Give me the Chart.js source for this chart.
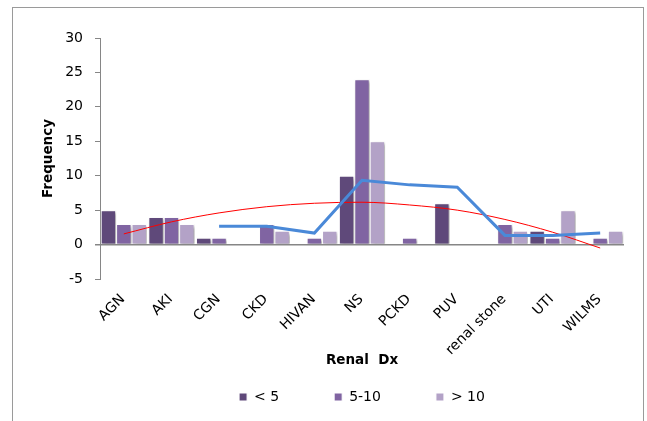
<!DOCTYPE html>
<html>
<head>
<meta charset="utf-8">
<script src="https://cdn.jsdelivr.net/npm/chart.js@4"></script>
<style>
  html, body { margin: 0; padding: 0; background: #fff; }
  .wrap { width: 647px; height: 421px; position: relative; }
</style>
</head>
<body>
<div class="wrap"><canvas class="myChart"></canvas></div>
<script>
var myChart = document.querySelector(".myChart");

// categories and counts per age group
let labels = ['AGN','AKI','CGN','CKD','HIVAN','NS','PCKD','PUV','renal stone','UTI','WILMS'];
let under5 = [5, 4, 1, 0, 0, 10, 0, 6, 0, 2, 0];
let from5to10 = [3, 4, 1, 3, 1, 24, 1, 0, 3, 1, 1];
let over10 = [3, 3, 0, 2, 2, 15, 0, 0, 2, 5, 2];
// trend lines
let movingAvg = [null, null, 2.67, 2.67, 1.67, 9.33, 8.67, 8.33, 1.33, 1.33, 1.67];
let polyTrend = [1.55, 3.3, 4.6, 5.5, 6.0, 6.15, 5.75, 5.0, 3.65, 1.8, -0.5];
let yTicks = [-5, 30, 5]; // min, max, step

Chart.defaults.font.family = "'DejaVu Sans', sans-serif";
Chart.defaults.font.size = 14;
Chart.defaults.color = '#000';

// outer frame, bar shadows, legend placement
const chartDecor = {
    id: 'chartDecor',
    beforeDraw(chart) {
        const ctx = chart.ctx;
        ctx.save();
        ctx.fillStyle = '#fff';
        ctx.fillRect(0, 0, chart.width, chart.height);
        ctx.strokeStyle = '#9a9a9a';
        ctx.lineWidth = 1;
        ctx.strokeRect(12.5, 7.5, 631, 440);
        ctx.restore();
    },
    afterLayout(chart) {
        // legend row sits lower than its reserved box
        const lg = chart.legend;
        lg.top = 397 - 7 - 55;
        lg.bottom = lg.top + 140;
        lg.height = 140;
    },
    beforeDatasetDraw(chart, args) {
        if (args.meta.type !== 'bar') return;
        const ctx = chart.ctx;
        ctx.save();
        ctx.shadowColor = 'rgba(0,0,0,0.35)';
        ctx.shadowBlur = 3;
        ctx.shadowOffsetX = 2;
        ctx.shadowOffsetY = 2;
    },
    afterDatasetDraw(chart, args) {
        if (args.meta.type !== 'bar') return;
        chart.ctx.restore();
    }
};

const barStyle = {
    borderColor: '#fff',
    borderWidth: 1,
    inflateAmount: 0,
    categoryPercentage: 0.97,
    barPercentage: 1,
    order: 2
};

const data = {
    labels: labels,
    datasets: [
        Object.assign({ label: '< 5', data: under5, backgroundColor: '#5f497a' }, barStyle),
        Object.assign({ label: '5-10', data: from5to10, backgroundColor: '#8064a2' }, barStyle),
        Object.assign({ label: '> 10', data: over10, backgroundColor: '#b3a2c7' }, barStyle),
        {
            type: 'line', label: 'avg', data: movingAvg,
            borderColor: '#4a89d8', borderWidth: 3, pointRadius: 0,
            tension: 0, order: 0
        },
        {
            type: 'line', label: 'poly', data: polyTrend,
            borderColor: '#ff0000', borderWidth: 1, pointRadius: 0,
            cubicInterpolationMode: 'monotone', order: 1
        }
    ]
};

const config = {
    type: 'bar',
    data: data,
    plugins: [chartDecor],
    options: {
        responsive: true,
        maintainAspectRatio: false,
        animation: false,
        layout: { padding: { top: 38, right: 23, bottom: 20, left: 0 } },
        plugins: {
            tooltip: { enabled: false },
            legend: {
                position: 'bottom',
                fullSize: false,
                maxHeight: 30,
                labels: {
                    boxWidth: 8,
                    boxHeight: 8,
                    padding: 55,
                    font: { size: 14 },
                    filter: item => item.datasetIndex < 3
                }
            }
        },
        scales: {
            x: {
                grid: { display: false },
                border: { display: false },
                // mirror keeps the labels unclipped so they can hang a little above the plot bottom
                ticks: { minRotation: 45, maxRotation: 45, autoSkip: false, mirror: true, padding: -24, labelOffset: 11 },
                title: {
                    display: true, text: 'Renal  Dx',
                    font: { size: 13.5, weight: 'bold' },
                    padding: { top: 0, bottom: 2 }
                },
                afterFit: s => { s.height = 92; }
            },
            y: {
                min: yTicks[0],
                max: yTicks[1],
                ticks: { stepSize: yTicks[2], padding: 12 },
                border: { display: true, color: '#868686', width: 1 },
                grid: {
                    color: c => c.tick && c.tick.value === 0 ? '#868686' : 'transparent',
                    lineWidth: c => c.tick && c.tick.value === 0 ? 1.5 : 1,
                    tickColor: '#868686',
                    tickLength: 5
                },
                title: {
                    display: true, text: 'Frequency',
                    font: { size: 13.5, weight: 'bold' },
                    padding: { top: 40, bottom: 0 }
                },
                afterFit: s => { s.width = 100; }
            }
        }
    }
};

const chart1 = new Chart(myChart.getContext('2d'), config);
</script>
</body>
</html>
